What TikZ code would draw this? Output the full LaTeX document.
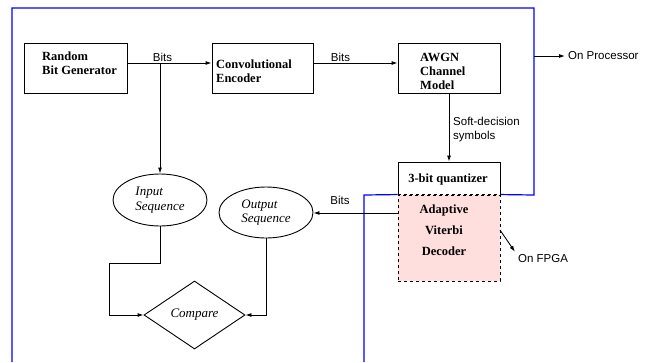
\documentclass[tikz,border=0pt]{standalone}
\usepackage{fontspec}
\setmainfont{Liberation Serif}
\setsansfont{Liberation Sans}
\usetikzlibrary{arrows.meta,shapes.geometric}
\definecolor{fpgapink}{RGB}{255,222,222}
\definecolor{procblue}{RGB}{0,0,255}
\begin{document}
\begin{tikzpicture}[x=1pt,y=-1pt,
  blk/.style={draw, line width=0.9pt, inner sep=0pt},
  blktext/.style={font=\fontsize{12.5}{14}\selectfont\bfseries, align=left, inner sep=0pt},
  seq/.style={draw, ellipse, line width=0.9pt, inner sep=0pt, minimum width=94pt,
    font=\fontsize{13}{14.5}\selectfont\itshape, align=left},
  lbl/.style={font=\sffamily\fontsize{11.5}{14}\selectfont, inner sep=0pt, align=left},
  arr/.style={line width=0.9pt, -{Latex[length=6pt,width=4pt]}},
  wire/.style={line width=0.9pt},
  bound/.style={procblue, line width=1.2pt}]
\useasboundingbox (0,0) rectangle (650,362);

% processing blocks
\node[blk, minimum width=103pt, minimum height=50pt] (rbg) at (75.5,68) {};
\node[blk, minimum width=101pt, minimum height=50pt] (conv) at (262.5,68) {};
\node[blk, minimum width=102pt, minimum height=50pt] (awgn) at (449,68) {};
\node[blk, minimum width=102pt, minimum height=33pt] (quant) at (449,178.5) {};
\node[blk, fill=fpgapink, dashed, minimum width=102pt, minimum height=86pt] (vit) at (449,238) {};

\node[blktext, anchor=west] (rbgt) at (42,63) {Random\\Bit Generator};
\node[blktext, anchor=west] (convt) at (216,71) {Convolutional\\Encoder};
\node[blktext, anchor=west] (awgnt) at (420,71) {AWGN\\Channel\\Model};
\node[blktext] (quantt) at (448,179) {3-bit quantizer};
\node[blktext, align=center] (vitt) at (444,230) {Adaptive\\[7pt]Viterbi\\[7pt]Decoder};

% sequences and comparison
\node[seq, minimum height=52pt] (inseq) at (160,200) {Input\\Sequence};
\node[seq, minimum height=51pt] (outseq) at (266,212.5) {Output\\Sequence};
\node[draw, diamond, aspect=1.5, line width=0.9pt, inner sep=0pt,
  minimum width=101pt, minimum height=68pt,
  font=\fontsize{13}{14.5}\selectfont\itshape] (cmp) at (194.5,315) {Compare};

% processor / FPGA boundary
\draw[bound] (12,362) -- (12,8) -- (534,8) -- (534,195) -- (vit.north east);
\draw[bound] (vit.north west) -- (364,195) -- (364,362);
\draw[line width=0.9pt, dashed] (vit.north west) -- (vit.north east);

% bit streams
\coordinate (tap) at (160,63);
\coordinate (bitsout) at (330,213);
\coordinate (loop) at (109,263);
\draw[arr] (rbg.east |- tap) -- (conv.west |- tap);
\draw[arr] (tap) -- (inseq.north);
\draw[arr] (conv.east |- tap) -- (awgn.west |- tap);
\draw[arr] (awgn.south) -- (quant.north);
\draw[arr] (vit.west |- bitsout) -- (outseq.east |- bitsout);
\draw[arr] (inseq.south) |- (loop) |- (cmp.west);
\draw[arr] (outseq.south) |- (cmp.east);

\node[lbl] (bits1) at (162.5,57) {Bits};
\node[lbl] (bits2) at (340.5,57) {Bits};
\node[lbl] (bits3) at (340,200) {Bits};
\node[lbl, anchor=west] (soft) at (453,130) {Soft-decision\\symbols};

% domain labels
\coordinate (procout) at (534,56);
\node[lbl, anchor=west, inner sep=3pt] (ptext) at (565,56) {On Processor};
\draw[arr] (procout) -- (ptext.west);
\coordinate (fpgaout) at (500,230);
\node[lbl, inner sep=3pt] (ftext) at (543,259) {On FPGA};
\draw[arr] (fpgaout) -- (ftext.north west);
\end{tikzpicture}
\end{document}
